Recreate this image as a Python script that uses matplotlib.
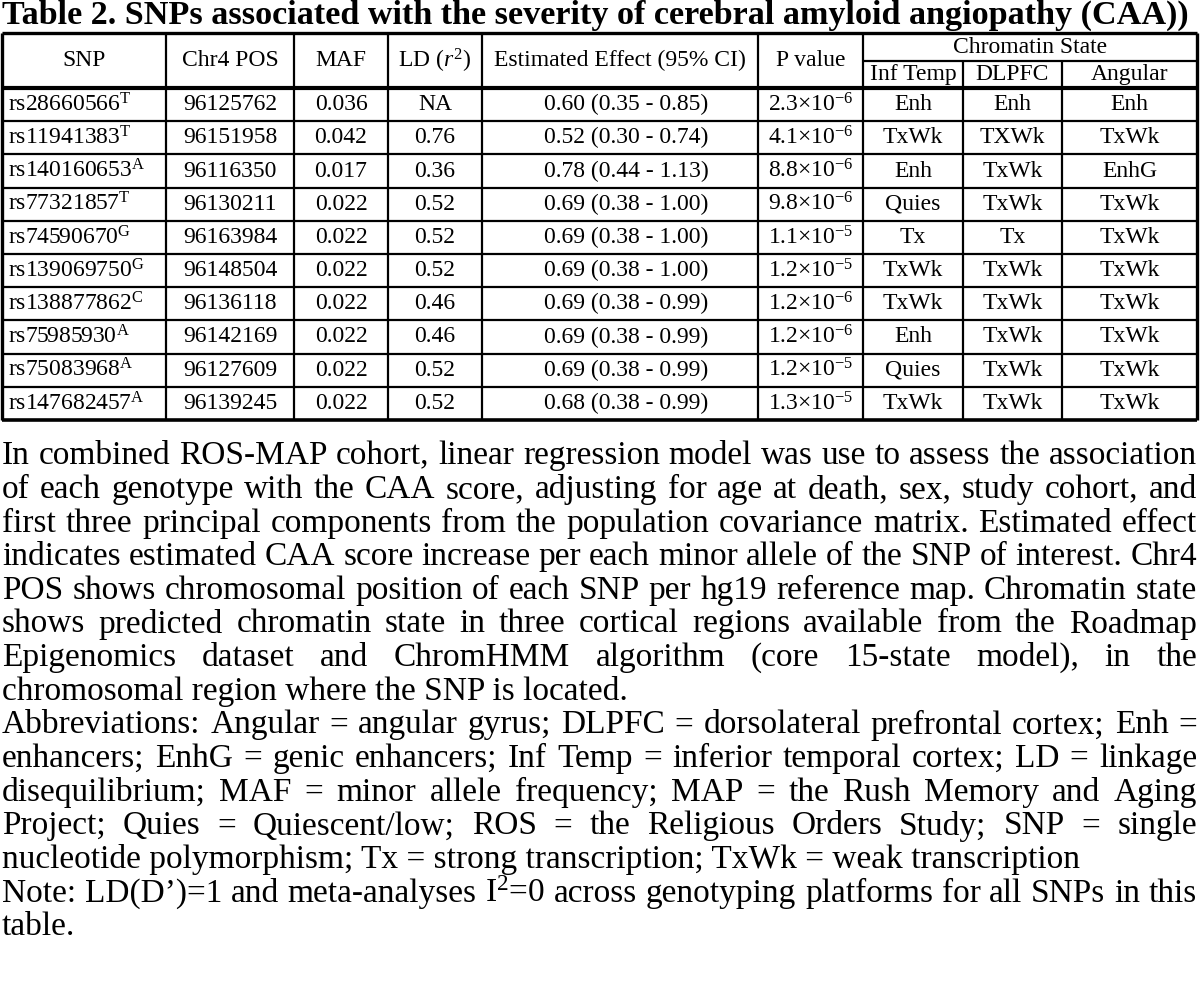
import matplotlib
matplotlib.use("Agg")
import matplotlib.pyplot as plt

plt.rcParams['font.family'] = ['Liberation Serif', 'DejaVu Serif']
plt.rcParams['mathtext.fontset'] = 'custom'
plt.rcParams['mathtext.rm'] = 'Liberation Serif'
plt.rcParams['mathtext.it'] = 'Liberation Serif:italic'
plt.rcParams['mathtext.bf'] = 'Liberation Serif:bold'

# ---------------- data ----------------
title = "Table 2. SNPs associated with the severity of cerebral amyloid angiopathy (CAA))"
headers = ["SNP", "Chr4 POS", "MAF", r"LD ($r^2$)", "Estimated Effect (95% CI)", "P value"]
group_header = "Chromatin State"
sub_headers = ["Inf Temp", "DLPFC", "Angular"]

snps = ["rs28660566", "rs11941383", "rs140160653", "rs77321857", "rs74590670",
        "rs139069750", "rs138877862", "rs75985930", "rs75083968", "rs147682457"]
alleles = ["T", "T", "A", "T", "G", "G", "C", "A", "A", "A"]
chr4_pos = [96125762, 96151958, 96116350, 96130211, 96163984,
            96148504, 96136118, 96142169, 96127609, 96139245]
maf = [0.036, 0.042, 0.017, 0.022, 0.022, 0.022, 0.022, 0.022, 0.022, 0.022]
ld_r2 = [None, 0.76, 0.36, 0.52, 0.52, 0.52, 0.46, 0.46, 0.52, 0.52]
effect = [0.60, 0.52, 0.78, 0.69, 0.69, 0.69, 0.69, 0.69, 0.69, 0.68]
ci_low = [0.35, 0.30, 0.44, 0.38, 0.38, 0.38, 0.38, 0.38, 0.38, 0.38]
ci_high = [0.85, 0.74, 1.13, 1.00, 1.00, 1.00, 0.99, 0.99, 0.99, 0.99]
p_mantissa = [2.3, 4.1, 8.8, 9.8, 1.1, 1.2, 1.2, 1.2, 1.2, 1.3]
p_exponent = [-6, -6, -6, -6, -5, -5, -6, -6, -5, -5]
inf_temp = ["Enh", "TxWk", "Enh", "Quies", "Tx", "TxWk", "TxWk", "Enh", "Quies", "TxWk"]
dlpfc = ["Enh", "TXWk", "TxWk", "TxWk", "Tx", "TxWk", "TxWk", "TxWk", "TxWk", "TxWk"]
angular = ["Enh", "TxWk", "EnhG", "TxWk", "TxWk", "TxWk", "TxWk", "TxWk", "TxWk", "TxWk"]

paragraph_lines = [
    ("In combined ROS-MAP cohort, linear regression model was use to assess the association", True),
    ("of each genotype with the CAA score, adjusting for age at death, sex, study cohort, and", True),
    ("first three principal components from the population covariance matrix. Estimated effect", True),
    ("indicates estimated CAA score increase per each minor allele of the SNP of interest. Chr4", True),
    ("POS shows chromosomal position of each SNP per hg19 reference map. Chromatin state", True),
    ("shows predicted chromatin state in three cortical regions available from the Roadmap", True),
    ("Epigenomics dataset and ChromHMM algorithm (core 15-state model), in the", True),
    ("chromosomal region where the SNP is located.", False),
    ("Abbreviations: Angular = angular gyrus; DLPFC = dorsolateral prefrontal cortex; Enh =", True),
    ("enhancers; EnhG = genic enhancers; Inf Temp = inferior temporal cortex; LD = linkage", True),
    ("disequilibrium; MAF = minor allele frequency; MAP = the Rush Memory and Aging", True),
    ("Project; Quies = Quiescent/low; ROS = the Religious Orders Study; SNP = single", True),
    ("nucleotide polymorphism; Tx = strong transcription; TxWk = weak transcription", False),
    ("Note: LD(D\u2019)=1 and meta-analyses I$^{2}$=0 across genotyping platforms for all SNPs in this", True),
    ("table.", False),
]

# ---------------- layout ----------------
W, H = 1200, 998
fig = plt.figure(figsize=(W / 100, H / 100), dpi=100)
ax = fig.add_axes([0, 0, 1, 1])
ax.set_xlim(0, W)
ax.set_ylim(H, 0)
ax.axis("off")
renderer = fig.canvas.get_renderer()


def text_width(s, fs, **kw):
    t = ax.text(0, 0, s, fontsize=fs, **kw)
    w = t.get_window_extent(renderer).width
    t.remove()
    return w


def fit_size(s, target, base=20.0, **kw):
    return base * target / text_width(s, base, **kw)


col_x = [2, 166, 294, 388, 482, 758, 863, 963, 1062, 1197]
y_top, y_sub, y_head = 33, 61, 88
row_h = 33.2
n = len(snps)
row_y = [y_head + i * row_h for i in range(n + 1)]
y_bot = row_y[-1]

# title
fs_title = fit_size(title, 1188, weight="bold")
ax.text(2, 15, title, fontsize=fs_title, weight="bold", ha="left", va="center")

# table font
fs_tab = fit_size("Estimated Effect (95% CI)", 252)

# lines
lw_in = 1.6
ax.hlines([y_top], col_x[0], col_x[-1], color="black", lw=2.4)
ax.hlines([y_sub], col_x[6], col_x[-1], color="black", lw=lw_in)
ax.hlines([y_head], col_x[0], col_x[-1], color="black", lw=3.0)
ax.hlines(row_y[1:-1], col_x[0], col_x[-1], color="black", lw=lw_in)
ax.hlines([y_bot], col_x[0], col_x[-1], color="black", lw=2.6)
ax.vlines([col_x[0], col_x[-1]], y_top, y_bot, color="black", lw=2.4)
ax.vlines(col_x[1:7], y_top, y_bot, color="black", lw=lw_in)
ax.vlines(col_x[7:9], y_sub, y_bot, color="black", lw=lw_in)

# headers
yc_head = (y_top + y_head) / 2
for i, h in enumerate(headers):
    ax.text((col_x[i] + col_x[i + 1]) / 2, yc_head, h, fontsize=fs_tab,
            ha="center", va="center")
ax.text((col_x[6] + col_x[-1]) / 2, (y_top + y_sub) / 2, group_header,
        fontsize=fs_tab, ha="center", va="center")
for j, h in enumerate(sub_headers):
    ax.text((col_x[6 + j] + col_x[7 + j]) / 2, (y_sub + y_head) / 2, h,
            fontsize=fs_tab, ha="center", va="center")

# rows
for i in range(n):
    yc = (row_y[i] + row_y[i + 1]) / 2
    ax.text(col_x[0] + 6, yc, f"{snps[i]}$^{{\\mathrm{{{alleles[i]}}}}}$",
            fontsize=fs_tab, ha="left", va="center")
    cells = [
        f"{chr4_pos[i]}",
        f"{maf[i]:.3f}",
        "NA" if ld_r2[i] is None else f"{ld_r2[i]:.2f}",
        None,
        f"{p_mantissa[i]:.1f}\u00d710$^{{\\mathrm{{-{abs(p_exponent[i])}}}}}$",
        inf_temp[i], dlpfc[i], angular[i],
    ]
    for k, c in enumerate(cells):
        if c is None:
            continue
        ax.text((col_x[k + 1] + col_x[k + 2]) / 2, yc, c, fontsize=fs_tab,
                ha="center", va="center")
    ax.text((col_x[4] + col_x[5]) / 2 + 6, yc,
            f"{effect[i]:.2f} ({ci_low[i]:.2f} - {ci_high[i]:.2f})",
            fontsize=fs_tab, ha="center", va="center")

# paragraph text
fs_par = fit_size("nucleotide polymorphism; Tx = strong transcription; TxWk = weak transcription", 1075)
x0, x1 = 2, 1197
y0, dy = 456, 33.64
for li, (line, just) in enumerate(paragraph_lines):
    y = y0 + li * dy
    if not just:
        ax.text(x0, y, line, fontsize=fs_par, ha="left", va="center")
        continue
    words = line.split(" ")
    widths = [text_width(w, fs_par) for w in words]
    gap = (x1 - x0 - sum(widths)) / (len(words) - 1)
    x = x0
    for w, wd in zip(words, widths):
        ax.text(x, y, w, fontsize=fs_par, ha="left", va="center")
        x += wd + gap

fig.savefig("out.png", dpi=100, facecolor="white")
